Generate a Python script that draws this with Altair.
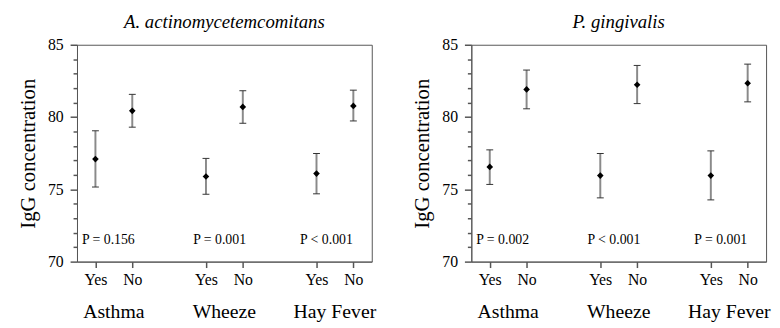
import altair as alt
import pandas as pd

# ---- data ----
xpos = [1, 2, 4, 5, 7, 8]            # Yes/No positions (Asthma, Wheeze, Hay Fever)
answers = ["Yes", "No", "Yes", "No", "Yes", "No"]

aa_mean = [77.09, 80.43, 75.89, 80.70, 76.09, 80.77]
aa_low = [75.16, 79.30, 74.66, 79.57, 74.69, 79.73]
aa_high = [79.05, 81.57, 77.14, 81.82, 77.48, 81.86]

pg_mean = [76.55, 81.91, 75.95, 82.23, 75.95, 82.34]
pg_low = [75.34, 80.57, 74.41, 80.93, 74.27, 81.05]
pg_high = [77.73, 83.25, 77.48, 83.57, 77.66, 83.66]

group_names = ["Asthma", "Wheeze", "Hay Fever"]
group_x = [1.5, 4.5, 7.5]

aa_p = ["P = 0.156", "P = 0.001", "P < 0.001"]
pg_p = ["P = 0.002", "P < 0.001", "P = 0.001"]
p_x = [1.35, 4.37, 7.27]
p_y = [71.23, 71.23, 71.23]

y_major = [70, 75, 80, 85]
y_minor = [71, 72, 73, 74, 76, 77, 78, 79, 81, 82, 83, 84]

FONT = "Liberation Serif"
FRAME = "#555555"
TICK = "#555555"
W, H = 299, 220


def panel(title, mean, low, high, ptexts):
    df = pd.DataFrame({"x": xpos, "answer": answers, "mean": mean,
                       "low": low, "high": high})
    pdf = pd.DataFrame({"x": p_x, "y": p_y, "text": ptexts})
    gdf = pd.DataFrame({"x": group_x, "name": group_names})

    xaxis = alt.Axis(values=xpos,
                     labelExpr="datum.value % 3 == 1 ? 'Yes' : 'No'",
                     title=None, grid=False, ticks=True, tickSize=6,
                     tickWidth=1.5, labelFontSize=16,
                     labelPadding=4, labelFont=FONT, labelColor="black",
                     domainColor=FRAME, tickColor=TICK, tickOpacity=1)
    yaxis = alt.Axis(values=y_major, orient="left",
                     title="IgG concentration", grid=False, ticks=True,
                     tickSize=7, tickWidth=1.5, tickOpacity=1,
                     labelFontSize=16, labelPadding=7, labelFont=FONT,
                     labelColor="black", titleFont=FONT, titleFontSize=21,
                     titleFontWeight="normal", titleColor="black", titlePadding=9,
                     domainColor=FRAME, tickColor=TICK)
    minor_axis = alt.Axis(values=y_minor, orient="left", title=None,
                          labels=False, grid=False, domain=False, ticks=True,
                          tickSize=4, tickWidth=1.5, tickColor=TICK, tickOpacity=1)
    xs = alt.Scale(domain=[0.5, 8.5])
    ys = alt.Scale(domain=[70, 85])

    base = alt.Chart(df)
    bars = base.mark_rule(color="#8a8a8a", strokeWidth=2).encode(
        x=alt.X("x:Q", scale=xs, axis=xaxis),
        y=alt.Y("low:Q", scale=ys, axis=yaxis),
        y2="high:Q")
    cap_hi = base.mark_tick(orient="horizontal", size=7, thickness=1,
                            color="#333333", opacity=1).encode(
        x=alt.X("x:Q", scale=xs, axis=xaxis),
        y=alt.Y("high:Q", scale=ys, axis=yaxis))
    cap_lo = base.mark_tick(orient="horizontal", size=7, thickness=1,
                            color="#333333", opacity=1).encode(
        x=alt.X("x:Q", scale=xs, axis=xaxis),
        y=alt.Y("low:Q", scale=ys, axis=yaxis))
    pts = base.mark_point(shape="diamond", filled=True, color="black",
                          size=45, opacity=1).encode(
        x=alt.X("x:Q", scale=xs, axis=xaxis),
        y=alt.Y("mean:Q", scale=ys, axis=yaxis))
    ptxt = alt.Chart(pdf).mark_text(font=FONT, fontSize=14, color="black",
                                    baseline="alphabetic", align="center").encode(
        x=alt.X("x:Q", scale=xs, axis=xaxis),
        y=alt.Y("y:Q", scale=ys, axis=yaxis),
        text="text:N")
    gtxt = alt.Chart(gdf).mark_text(font=FONT, fontSize=20, color="black",
                                    baseline="alphabetic", align="center").encode(
        x=alt.X("x:Q", scale=xs, axis=xaxis),
        y=alt.value(H + 57),
        text="name:N")
    minor = base.mark_point(opacity=0, size=1).encode(
        x=alt.X("x:Q", scale=xs, axis=xaxis),
        y=alt.Y("mean:Q", scale=ys, axis=minor_axis))

    main = alt.layer(bars, cap_hi, cap_lo, pts, ptxt, gtxt)
    return alt.layer(main, minor).resolve_axis(y="independent").properties(
        width=W, height=H,
        title=alt.TitleParams(title, font=FONT, fontStyle="italic",
                              fontSize=19, fontWeight="normal", color="black",
                              anchor="middle", offset=5))


left = panel("A. actinomycetemcomitans", aa_mean, aa_low, aa_high, aa_p)
right = panel("P. gingivalis", pg_mean, pg_low, pg_high, pg_p)

chart = alt.hconcat(left, right, spacing=34).properties(
    padding={"left": 9, "top": 2, "right": 0, "bottom": 0}
).configure_view(stroke=FRAME, strokeWidth=1)

chart.save("out.html", embed_options={"renderer": "svg", "actions": False})
